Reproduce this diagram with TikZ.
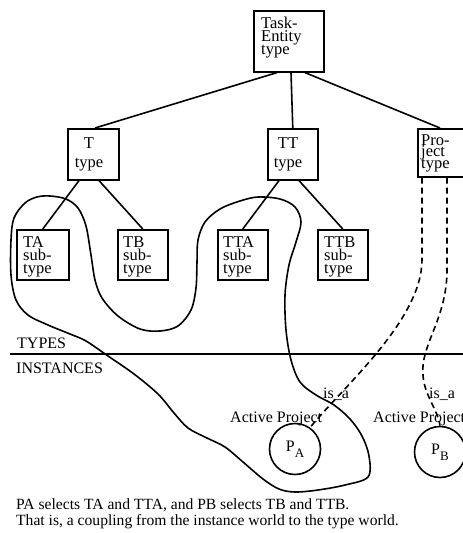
\documentclass[tikz,border=0pt]{standalone}
\usepackage{fontspec}
\setmainfont{Liberation Serif}
\newcommand\boxfont{\fontsize{16.5}{13}\selectfont\lineskiplimit=-100pt\relax}
\newcommand\projfont{\fontsize{16.5}{11.5}\selectfont\lineskiplimit=-100pt\relax}
\newcommand\typefont{\fontsize{16.5}{19.5}\selectfont\lineskiplimit=-100pt\relax}
\newcommand\lblfont{\fontsize{16}{16}\selectfont}
\newcommand\capfont{\fontsize{15.6}{16.5}\selectfont\lineskiplimit=-100pt\relax}
\begin{document}
\begin{tikzpicture}[x=1pt,y=-1pt,
  line/.style={line width=1.6pt},
  dline/.style={line width=1.6pt, dash pattern=on 6pt off 4pt},
  box/.style={draw, line width=1.6pt, anchor=north west, inner sep=0pt,
              minimum width=50pt, minimum height=50pt},
  btext/.style={anchor=north west, inner sep=0pt, align=left, font=\boxfont},
  ttext/.style={anchor=north, inner sep=0pt, align=center, font=\typefont},
  lbl/.style={anchor=base west, inner sep=0pt, font=\lblfont},
  inst/.style={circle, draw, line width=1.6pt, minimum size=51pt, inner sep=0pt, font=\lblfont}]
\useasboundingbox (0,0) rectangle (463,533);
\clip (0,0) rectangle (463,533);
% boxes
\node[box, minimum width=70pt, minimum height=61pt] (TE) at (253,10) {};
\node[box, minimum width=51pt, minimum height=51pt] (T) at (67,128) {};
\node[box, minimum height=51pt] (TT) at (267,128) {};
\node[box, minimum width=80pt, minimum height=48pt] (P) at (417,128) {};
\node[box, minimum width=52pt] (TA) at (16,229) {};
\node[box] (TB) at (117,229) {};
\node[box] (TTA) at (217,229) {};
\node[box] (TTB) at (317,229) {};
% box texts
\node[btext] (TEt) at (261,17) {Task-\\Entity\\type};
\node[ttext] (Tt) at (89,137.2) {T\\type};
\node[ttext] (TTt) at (288,137.2) {TT\\type};
\node[btext, font=\projfont] (Pt) at (421,134.2) {Pro-\\ject\\type};
\node[btext] (TAt) at (23,236.2) {TA\\sub-\\type};
\node[btext] (TBt) at (123,236.2) {TB\\sub-\\type};
\node[btext] (TTAt) at (223,236.2) {TTA\\sub-\\type};
\node[btext] (TTBt) at (324,236.2) {TTB\\sub-\\type};
% tree
\draw[line] ([xshift=24pt]TE.south west) -- ([xshift=28pt]T.north west);
\draw[line] ([xshift=38pt]TE.south west) -- (TT.north);
\draw[line] ([xshift=52pt]TE.south west) -- ([xshift=23pt]P.north west);
\draw[line] ([xshift=12pt]T.south west) -- (TA.north);
\draw[line] ([xshift=32pt]T.south west) -- (TB.north);
\draw[line] ([xshift=12pt]TT.south west) -- (TTA.north);
\draw[line] ([xshift=32pt]TT.south west) -- (TTB.north);
% separator
\coordinate (sepL) at (10,354);
\coordinate (sepR) at (463,354);
\draw[line width=1.8pt] (sepL) -- (sepR);
\node[lbl] (types) at (17,348) {TYPES};
\node[lbl] (insts) at (16,373) {INSTANCES};
% instances
\node[inst] (PA) at (295,449) {P\raisebox{-0.35em}{\fontsize{13}{13}\selectfont A}};
\node[inst] (PB) at (440,452) {P\raisebox{-0.35em}{\fontsize{13}{13}\selectfont B}};
\node[lbl] (apA) at (230,422) {Active Project};
\node[lbl] (apB) at (373,422) {Active Project};
\node[lbl] (isaA) at (323,398) {is\_a};
\node[lbl] (isaB) at (429,398) {is\_a};
% is_a links
\draw[dline] ([xshift=5pt]P.south west) -- ++(0,82) .. controls +(0,60) and (345,385) .. (PA.55);
\draw[dline] ([xshift=30pt]P.south west) -- ++(0,92) .. controls +(0,50) and (420,345) .. (423,375) .. controls (424,395) and (438,410) .. (PB.north);
% coupling curve
\draw[line] plot[smooth cycle, tension=0.55] coordinates {
 (50,196) (66,199) (78,208) (86,226) (91,255) (95,280) (102,298) (118,316)
 (140,329) (160,331) (178,326) (191,310) (196,288) (197,262) (198,240)
 (205,222) (220,209) (240,201) (258,197) (280,199) (295,207) (301,222)
 (296,242) (289,265) (285,295) (286,330) (291,360) (300,382) (316,395)
 (334,405) (350,419) (362,436) (369,456) (368,477) (345,485) (318,490)
 (295,492) (279,489) (263,479) (243,462) (225,447) (207,438) (188,428)
 (174,413) (158,394) (134,374) (108,356) (86,341) (70,334) (48,325)
 (28,315) (16,300) (11,275) (11,240) (14,218) (25,203) (37,197)};
% caption
\node[anchor=north west, inner sep=0pt, align=left, font=\capfont] (cap) at (16,498.4)
 {PA selects TA and TTA, and PB selects TB and TTB.\\That is, a coupling from the instance world to the type world.};
\end{tikzpicture}
\end{document}
